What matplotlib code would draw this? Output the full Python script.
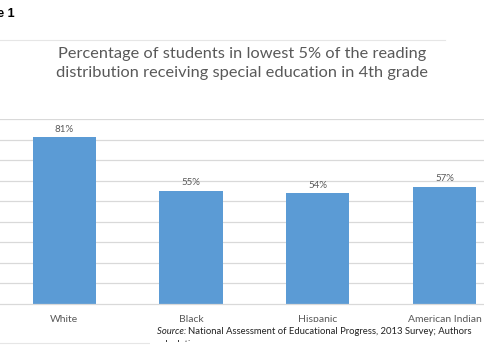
import matplotlib
matplotlib.use("Agg")
import matplotlib.pyplot as plt
from matplotlib.patches import Rectangle
from matplotlib.lines import Line2D
from matplotlib.text import Annotation

categories = ["White", "Black", "Hispanic", "American Indian"]
values = [81, 55, 54, 57]
value_labels = ["81%", "55%", "54%", "57%"]
title_text = "Percentage of students in lowest 5% of the reading\ndistribution receiving special education in 4th grade"
source_label = "Source:"
source_text = "National Assessment of Educational Progress, 2013 Survey; Authors"
source_line2 = "calculations"

W, H = 485, 360
fig = plt.figure(figsize=(W / 100, H / 100), dpi=100)
fig.patch.set_facecolor("white")

def fx(px):
    return px / W

def fy(py):
    return 1 - py / H

ax = fig.add_axes([0, fy(304), 1, fy(119) - fy(304)])
ax.set_facecolor("white")
ax.set_ylim(0, 90)
ax.set_xlim(-0.508, 3.32)
ax.set_yticks(range(10, 91, 10))
ax.yaxis.grid(True, color="#d9d9d9", linewidth=0.9)
ax.set_axisbelow(True)
for s in ["left", "right", "top"]:
    ax.spines[s].set_visible(False)
ax.spines["bottom"].set_color("#d9d9d9")
ax.spines["bottom"].set_linewidth(0.9)
ax.tick_params(axis="y", left=False, labelleft=False)
ax.tick_params(axis="x", bottom=False, pad=4.5, labelsize=7.5, labelcolor="#595959")

x = list(range(len(categories)))
ax.bar(x, values, width=0.5, color="#5B9BD5", zorder=2)
ax.set_xticks(x)
ax.set_xticklabels(categories, family="Lato")
for xi, v, lab in zip(x, values, value_labels):
    ax.annotate(lab, (xi, v), xytext=(0, 2.5), textcoords="offset points",
                ha="center", va="bottom", fontsize=7, color="#595959",
                family="Lato", annotation_clip=False)

# Chart title
fig.text(fx(242), fy(63.5), title_text, ha="center", va="center", fontsize=11.8,
         color="#595959", family="Lato", linespacing=1.5)

# Figure label (cropped at left edge, as in the reference)
fig.text(fx(15), fy(14), "Figure 1", ha="right", va="center", fontsize=9,
         fontweight="bold", color="black", family="Liberation Sans")

# chart border lines
fig.add_artist(Line2D([0, fx(445)], [fy(40), fy(40)], color="#e6e6e6", linewidth=0.8))
fig.add_artist(Line2D([0, fx(150)], [fy(343), fy(343)], color="#e6e6e6", linewidth=0.8))

# Source box
fig.add_artist(Rectangle((fx(150), 0), 1 - fx(150), fy(322), transform=fig.transFigure,
                         facecolor="white", edgecolor="none", zorder=5))
s1 = fig.text(fx(157), fy(331), source_label + " ", ha="left", va="center", fontsize=6.8,
              color="#222222", family="Lato", style="italic", zorder=6)
a2 = Annotation(source_text, xy=(1, 0.5), xycoords=s1, xytext=(0, 0),
                textcoords="offset points", ha="left", va="center", fontsize=6.8,
                color="#222222", family="Lato", zorder=6)
fig.add_artist(a2)
fig.text(fx(157), fy(344.5), source_line2, ha="left", va="center", fontsize=6.8,
         color="#222222", family="Lato", zorder=6)
fig.add_artist(Rectangle((fx(150), 0), 1 - fx(150), fy(342), transform=fig.transFigure,
                         facecolor="white", edgecolor="none", zorder=7))

fig.savefig("out.png", dpi=100)
